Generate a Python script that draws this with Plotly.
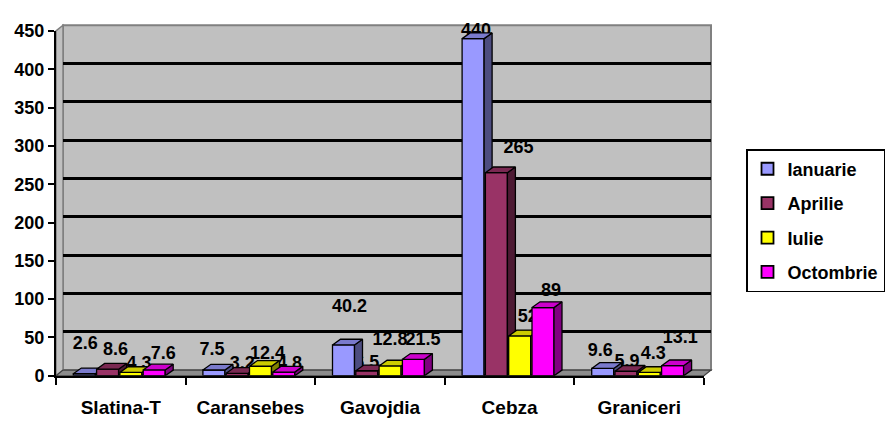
import plotly.graph_objects as go

# ---- data ----
categories = ["Slatina-T", "Caransebes", "Gavojdia", "Cebza", "Graniceri"]
months = ["Ianuarie", "Aprilie", "Iulie", "Octombrie"]
ianuarie = [2.6, 7.5, 40.2, 440, 9.6]
aprilie = [8.6, 3.2, 6.5, 265, 5.9]
iulie = [4.3, 12.4, 12.8, 52, 4.3]
octombrie = [7.6, 4.8, 21.5, 89, 13.1]
y_ticks = [0, 50, 100, 150, 200, 250, 300, 350, 400, 450]

series_values = [ianuarie, aprilie, iulie, octombrie]

# ---- styling ----
front_colors = ["#9999FF", "#993366", "#FFFF00", "#FF00FF"]
side_colors = ["#4D4D80", "#4D1A33", "#808000", "#800080"]
top_colors = ["#7A7ACC", "#7A2952", "#CCCC00", "#CC00CC"]

# label nudges in pixels (lift above bar front top, shift right of bar centre)
label_lift = [
    [31, 21, 39, 7, 18],
    [20, 9, 8, 25, 9],
    [8.5, 12, 27, 19, 18.5],
    [16, 8, 20, 17, 28.5],
]
label_shift = [
    [1, -2, 6, 3, -2.5],
    [8, 5, 0, 22, 1],
    [8, 7, 0, 8, 4],
    [9, 5.6, 9.6, 8, 7.6],
]

FONT = "Arial, Liberation Sans, sans-serif"
W, H = 893, 421
FX0, FX1 = 56, 704        # front plane left / right (px)
FY0, FY1 = 384, 22        # front plane y of 0 and of YMAX (px)
DX, DY = 7, 6             # wall depth offset (px)
BAR_DX, BAR_DY = 8, 6     # bar depth offset (px)
YMAX = 450

px_per_x = (FX1 - FX0) / len(categories)
px_per_y = (FY0 - FY1) / YMAX


def px(x):
    return x / W


def py(y):
    return 1 - y / H


bar_w = 22 / px_per_x
step = 23.3 / px_per_x
first = -47.5 / px_per_x
ddx = BAR_DX / px_per_x
ddy = BAR_DY / px_per_y

fig = go.Figure()

# invisible trace so the back-wall subplot exists
fig.add_trace(go.Scatter(x=[None], y=[None], xaxis="x", yaxis="y",
                         showlegend=False, hoverinfo="skip"))

# value labels (drawn first so the bars sit over them)
lx, ly, lt = [], [], []
for si, vals in enumerate(series_values):
    for ci, v in enumerate(vals):
        x0 = ci + first + si * step
        lx.append(x0 + bar_w / 2 + label_shift[si][ci] / px_per_x)
        ly.append(v + label_lift[si][ci] / px_per_y)
        lt.append(f"{v:g}")
fig.add_trace(go.Scatter(
    x=lx, y=ly, text=lt, mode="text", xaxis="x2", yaxis="y2",
    textposition="middle center", cliponaxis=False, showlegend=False,
    textfont=dict(family=FONT, size=18, color="black", weight="bold"),
    hoverinfo="skip"))

# 3D columns: front, side and top faces per series
for si, vals in enumerate(series_values):
    fxs, fys, sxs, sys_, txs, tys = [], [], [], [], [], []
    for ci, v in enumerate(vals):
        x0 = ci + first + si * step
        x1 = x0 + bar_w
        fxs += [x0, x1, x1, x0, x0, None]
        fys += [0, 0, v, v, 0, None]
        sxs += [x1, x1 + ddx, x1 + ddx, x1, x1, None]
        sys_ += [0, ddy, v + ddy, v, 0, None]
        txs += [x0, x1, x1 + ddx, x0 + ddx, x0, None]
        tys += [v, v, v + ddy, v + ddy, v, None]
    for xs, ys, col in ((fxs, fys, front_colors[si]),
                        (sxs, sys_, side_colors[si]),
                        (txs, tys, top_colors[si])):
        fig.add_trace(go.Scatter(
            x=xs, y=ys, mode="lines", fill="toself", fillcolor=col,
            line=dict(color="black", width=1.3), xaxis="x2", yaxis="y2",
            showlegend=False, hoverinfo="skip"))

# legend entries
for si, name in enumerate(months):
    fig.add_trace(go.Scatter(
        x=[None], y=[None], mode="markers", name=name, xaxis="x2", yaxis="y2",
        legendgroup=name,
        marker=dict(symbol="square", size=12, color=front_colors[si],
                    line=dict(color="black", width=1.8))))

shapes = [
    # back wall
    dict(type="rect", xref="paper", yref="paper", layer="below",
         x0=px(FX0 + DX), x1=px(FX1 + DX), y0=py(FY0 - DY), y1=py(FY1 - DY),
         fillcolor="#C0C0C0", line=dict(color="#808080", width=2)),
    # side wall
    dict(type="path", xref="paper", yref="paper", layer="below",
         path=f"M{px(FX0)},{py(FY0)} L{px(FX0)},{py(FY1)} "
              f"L{px(FX0 + DX)},{py(FY1 - DY)} L{px(FX0 + DX)},{py(FY0 - DY)} Z",
         fillcolor="#C0C0C0", line=dict(color="#808080", width=1.5)),
    # floor
    dict(type="path", xref="paper", yref="paper", layer="below",
         path=f"M{px(FX0)},{py(FY0)} L{px(FX0 + DX)},{py(FY0 - DY)} "
              f"L{px(FX1 + DX)},{py(FY0 - DY)} L{px(FX1)},{py(FY0)} Z",
         fillcolor="#8C8C8C", line=dict(color="#404040", width=1.2)),
]

fig.update_layout(
    width=W, height=H,
    margin=dict(l=0, r=0, t=0, b=0),
    paper_bgcolor="white", plot_bgcolor="rgba(0,0,0,0)",
    font=dict(family=FONT, color="black"),
    shapes=shapes,
    showlegend=True,
    legend=dict(x=px(746), y=py(146), xanchor="left", yanchor="top",
                bgcolor="white", bordercolor="black", borderwidth=1.5,
                font=dict(family=FONT, size=18, color="black", weight="bold"),
                tracegroupgap=8, traceorder="grouped"),
    # back wall grid
    xaxis=dict(domain=[px(FX0 + DX), px(FX1 + DX)], range=[0, 1], anchor="y",
               showgrid=False, zeroline=False, showline=False,
               showticklabels=False, ticks=""),
    yaxis=dict(domain=[py(FY0 - DY), py(FY1 - DY)], range=[0, YMAX], anchor="x",
               tickvals=y_ticks[1:-1], showgrid=True, gridcolor="black",
               gridwidth=2.5, zeroline=False, showline=False,
               showticklabels=False, ticks=""),
    # front axes carrying the columns
    xaxis2=dict(domain=[px(FX0), px(FX1)], range=[-0.5, len(categories) - 0.5],
                anchor="y2", tickvals=list(range(len(categories))),
                ticktext=categories, ticks="", showgrid=False, zeroline=False,
                showline=True, linecolor="black", linewidth=2,
                ticklabelstandoff=13,
                tickfont=dict(family=FONT, size=19, color="black", weight="bold"),
                minor=dict(tickvals=[i - 0.5 for i in range(len(categories) + 1)],
                           ticks="outside", ticklen=7, tickcolor="black",
                           tickwidth=2, showgrid=False)),
    yaxis2=dict(domain=[py(FY0), py(FY1)], range=[0, YMAX], anchor="x2",
                tickvals=y_ticks, ticks="outside", ticklen=6, tickwidth=2,
                tickcolor="black", showgrid=False, zeroline=False,
                showline=True, linecolor="black", linewidth=2,
                tickfont=dict(family=FONT, size=18, color="black", weight="bold")),
)

fig.write_html("out.html")
